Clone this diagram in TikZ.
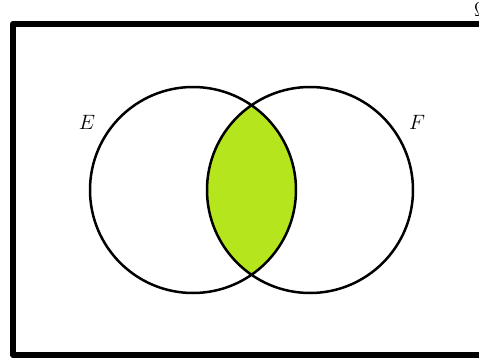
\documentclass[tikz,border=0pt]{standalone}
\usepackage{xcolor}
\definecolor{lensgreen}{HTML}{B5E61D}
\begin{document}
\begin{tikzpicture}[x=1pt,y=1pt,line width=2.5pt]
\useasboundingbox (0,0) rectangle (479,360);
\coordinate (e) at (193,170); \coordinate (f) at (310,170);
\begin{scope}
\clip (e) circle (103);
\fill[lensgreen] (f) circle (103);
\end{scope}
\draw (e) circle (103) (f) circle (103);
\draw[line width=6pt,line join=round] (490,336)--(13,336)--(13,5)--(490,5);
\node (E) at (87,238) {\fontsize{20}{24}\selectfont $E$};
\node (F) at (417,238) {\fontsize{20}{24}\selectfont $F$};
\node (omega) at (481,351) {\fontsize{20}{24}\selectfont $\Omega$};
\end{tikzpicture}
\end{document}
